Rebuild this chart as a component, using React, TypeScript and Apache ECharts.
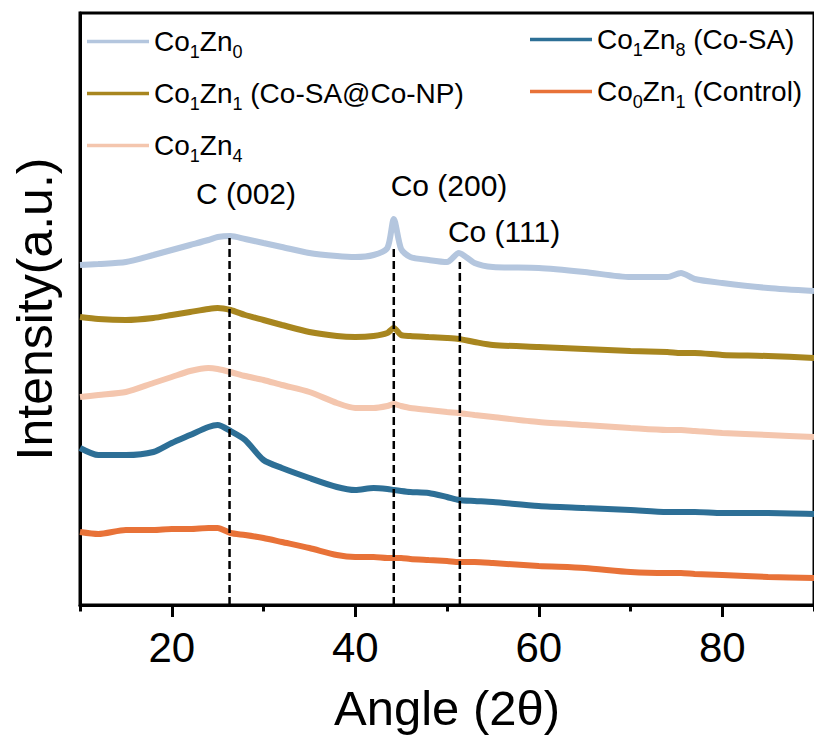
import React, { useEffect, useRef } from 'react';
import * as echarts from 'echarts';

const FONT = '"Liberation Sans", Arial, Helvetica, sans-serif';

// 2θ sampling positions (degrees)
const angles = [10, 12, 15, 18, 20, 22, 24, 25, 26.4, 28, 30, 32, 35, 38, 40, 42, 43.5, 44.2, 45, 46, 48, 50, 51.3, 53, 55, 60, 65, 70, 74, 75.5, 77, 80, 85, 90];

// Stacked (offset) intensities, arbitrary units
const co1zn0 = [340, 341, 343, 350, 355, 360, 365, 368, 369, 366, 362, 358, 352, 349, 348, 350, 357, 386, 356, 348, 345, 343, 352, 342, 338, 337, 333, 328, 328, 332, 326, 322, 317, 314];
const co1zn1 = [288, 286, 285, 287, 290, 293, 296, 297, 295, 290, 285, 280, 273, 269, 268, 269, 272, 277, 270, 269, 268, 267, 266, 263, 260, 258, 256, 254, 253, 252, 252, 250, 249, 247];
const co1zn4 = [208, 210, 213, 222, 228, 234, 237, 236, 233, 229, 225, 220, 213, 202, 197, 197, 199, 201, 199, 197, 195, 193, 192, 190, 188, 183, 180, 177, 175, 175, 174, 172, 170, 168];
const co1zn8 = [157, 150, 150, 153, 162, 170, 178, 180, 174, 165, 145, 137, 127, 118, 115, 117, 116, 115, 114, 113, 112, 108, 105, 104, 103, 99, 97, 95, 93, 93, 93, 92, 92, 91];
const co0zn1 = [73, 71, 75, 75, 76, 76, 77, 77, 72, 70, 67, 63, 57, 50, 48, 48, 47, 47, 47, 46, 45, 44, 43, 43, 42, 39, 37, 33, 32, 32, 31, 30, 28, 27];

const seriesNames = ['Co1Zn0', 'Co1Zn1 (Co-SA@Co-NP)', 'Co1Zn4', 'Co1Zn8 (Co-SA)', 'Co0Zn1 (Control)'];
const seriesValues = [co1zn0, co1zn1, co1zn4, co1zn8, co0zn1];
const seriesColors = ['#b4c6de', '#a8861f', '#f4c6ae', '#2d6f96', '#e87238'];
const legendRich: Record<string, string> = {
  'Co1Zn0': '{m|Co}{s|1}{m|Zn}{s|0}',
  'Co1Zn1 (Co-SA@Co-NP)': '{m|Co}{s|1}{m|Zn}{s|1}{m| (Co-SA@Co-NP)}',
  'Co1Zn4': '{m|Co}{s|1}{m|Zn}{s|4}',
  'Co1Zn8 (Co-SA)': '{m|Co}{s|1}{m|Zn}{s|8}{m| (Co-SA)}',
  'Co0Zn1 (Control)': '{m|Co}{s|0}{m|Zn}{s|1}{m| (Control)}',
};

const majorTicks = [20, 40, 60, 80];
const minorTicks = [10, 30, 50, 70, 90];

// Reference peak positions (dashed markers)
const peakAngles = [26.3, 44.2, 51.4];
const peakTops = [367, 360, 343];
const peakLabels = ['C (002)', 'Co (200)', 'Co (111)'];

export default function App() {
  const ref = useRef<HTMLDivElement>(null);
  useEffect(() => {
    if (!ref.current) return;
    const chart = echarts.init(ref.current, null, { renderer: 'svg' });

    const richStyles = {
      m: { fontSize: 28, lineHeight: 28, fontFamily: FONT, color: '#000' },
      s: { fontSize: 18, lineHeight: 28, padding: [21, 0, 0, 0], fontFamily: FONT, color: '#000' },
    };
    const legendCommon = {
      orient: 'vertical',
      itemWidth: 62,
      itemHeight: 3.5,
      itemGap: 13,
      icon: 'rect',
      padding: 0,
      formatter: (n: string) => legendRich[n] || n,
      textStyle: { rich: richStyles },
    };

    const dataSeries = seriesNames.map((name, i) => ({
      name,
      type: 'line',
      data: angles.map((a, j) => [a, seriesValues[i][j]]),
      showSymbol: false,
      symbol: 'none',
      smooth: 0.25,
      color: seriesColors[i],
      lineStyle: { width: 6, color: seriesColors[i] },
      z: 2,
    }));

    const dashSeries = peakAngles.map((a, i) => ({
      name: 'peak-' + i,
      type: 'line',
      data: [[a, 0], [a, peakTops[i]]],
      symbol: 'none',
      lineStyle: { width: 2.5, color: '#000', type: [8, 4] },
      z: 5,
      silent: true,
    }));

    const labelPos = [
      [246, 193],
      [449, 185],
      [504, 231],
    ];

    chart.setOption({
      animation: false,
      backgroundColor: '#fff',
      grid: {
        left: 80,
        top: 13,
        width: 736,
        height: 592,
        show: true,
        borderColor: '#000',
        borderWidth: 3,
        containLabel: false,
      },
      legend: [
        { ...legendCommon, data: seriesNames.slice(0, 3), left: 87, top: 22 },
        { ...legendCommon, data: seriesNames.slice(3), left: 530, top: 20 },
      ],
      xAxis: [
        {
          type: 'value',
          min: 10,
          max: 90,
          position: 'bottom',
          axisLine: { show: true, onZero: false, lineStyle: { color: '#000', width: 3 } },
          axisTick: { show: true, inside: false, length: 12, customValues: majorTicks, lineStyle: { color: '#000', width: 3 } },
          axisLabel: { show: true, customValues: majorTicks, fontSize: 42, fontFamily: FONT, color: '#000', margin: 21 },
          splitLine: { show: false },
          name: 'Angle (2θ)',
          nameLocation: 'middle',
          nameGap: 78,
          nameTextStyle: { fontSize: 49, fontFamily: FONT, color: '#000' },
        },
        {
          type: 'value',
          min: 10,
          max: 90,
          position: 'bottom',
          axisLine: { show: false, onZero: false },
          axisTick: { show: true, inside: false, length: 6.5, customValues: minorTicks, lineStyle: { color: '#000', width: 3 } },
          axisLabel: { show: false },
          splitLine: { show: false },
        },
      ],
      yAxis: {
        type: 'value',
        min: 0,
        max: 592,
        axisLine: { show: true, onZero: false, lineStyle: { color: '#000', width: 3 } },
        axisTick: { show: false },
        axisLabel: { show: false },
        splitLine: { show: false },
        name: 'Intensity(a.u.)',
        nameLocation: 'middle',
        nameGap: 20,
        nameTextStyle: { fontSize: 50, fontFamily: FONT, color: '#000' },
      },
      graphic: peakLabels.map((t, i) => ({
        type: 'text',
        x: labelPos[i][0],
        y: labelPos[i][1],
        style: {
          text: t,
          fontSize: 30,
          fontFamily: FONT,
          fill: '#000',
          align: 'center',
          verticalAlign: 'middle',
        },
      })),
      series: [...dataSeries, ...dashSeries],
    });

    return () => chart.dispose();
  }, []);

  return (
    <div
      ref={ref}
      style={{ position: 'fixed', left: 0, top: 0, width: 814, height: 738, background: '#fff' }}
    />
  );
}
